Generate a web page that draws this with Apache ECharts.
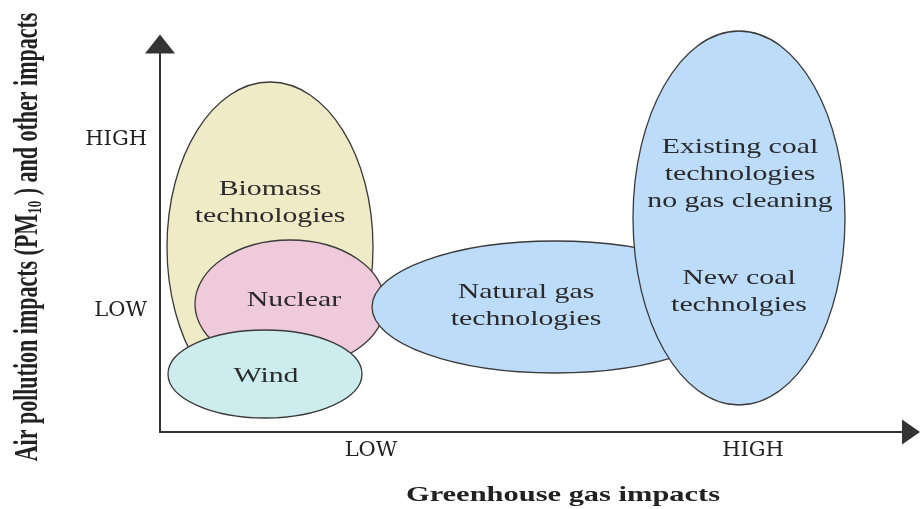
<!DOCTYPE html>
<html>
<head>
<meta charset="utf-8">
<script src="https://cdn.jsdelivr.net/npm/echarts@6/dist/echarts.min.js"></script>
<style>
  html, body { margin: 0; padding: 0; background: #fff; }
  #main { width: 920px; height: 509px; }
</style>
</head>
<body>
<div id="main"></div>
<script>
// technologies, listed back to front
const techNames = ['Biomass', 'Nuclear', 'Wind', 'Natural gas', 'Coal'];
// extent of each technology along greenhouse gas impacts (x)
const ghgMin = [7, 35, 8, 212, 473];
const ghgMax = [213, 225, 202, 578, 685];
// extent along air pollution impacts (y)
const airMin = [20, 64, 14, 59, 27];
const airMax = [350, 192, 102, 191, 401];
const techColors = ['#eeebc6', '#efcadb', '#cdecee', '#bcdcfa', '#bcdcfa'];

// text written inside the shapes, anchored in axis units
const labelText = [
  'Biomass\ntechnologies',
  'Nuclear',
  'Wind',
  'Natural gas\ntechnologies',
  'Existing coal\ntechnologies\nno gas cleaning',
  'New coal\ntechnolgies'
];
const labelGhg = [110, 134, 106, 366, 580, 579];
const labelAir = [229, 132, 56, 126, 258, 140];

// axis tick labels
const xTickValues = [211, 593];
const xTickLabels = ['LOW', 'HIGH'];
const yTickValues = [121, 292];
const yTickLabels = ['LOW', 'HIGH'];

const serif = '"Liberation Serif", "Times New Roman", serif';
const chart = echarts.init(document.getElementById('main'));

const option = {
  backgroundColor: '#fff',
  animation: false,
  grid: { left: 160, right: 9, top: 44, bottom: 77 },
  xAxis: {
    type: 'value',
    min: 0,
    max: 751,
    splitLine: { show: false },
    axisTick: { show: false },
    axisLine: {
      symbol: ['none', 'triangle'],
      symbolSize: [25, 18],
      lineStyle: { color: '#333', width: 2 }
    },
    axisLabel: {
      customValues: xTickValues,
      formatter: v => xTickLabels[xTickValues.indexOf(v)],
      margin: 8,
      fontFamily: 'DejaVu Serif',
      fontSize: 21,
      color: '#222'
    }
  },
  yAxis: {
    type: 'value',
    min: 0,
    max: 388,
    splitLine: { show: false },
    axisTick: { show: false },
    axisLine: {
      symbol: ['none', 'triangle'],
      symbolSize: [30, 19],
      lineStyle: { color: '#333', width: 2 }
    },
    axisLabel: {
      customValues: yTickValues,
      formatter: v => yTickLabels[yTickValues.indexOf(v)],
      margin: 13,
      fontFamily: 'DejaVu Serif',
      fontSize: 21,
      color: '#222'
    }
  },
  graphic: [
    {
      type: 'text',
      x: 563,
      y: 496,
      scaleX: 1.45,
      style: {
        text: 'Greenhouse gas impacts',
        fontFamily: serif,
        fontWeight: 'bold',
        fontSize: 21,
        fill: '#222',
        align: 'center',
        verticalAlign: 'middle'
      }
    },
    {
      type: 'text',
      x: 28,
      y: 237,
      rotation: Math.PI / 2,
      scaleY: 1.5,
      style: {
        text: 'Air pollution impacts (PM{sub|10} ) and other impacts',
        fontFamily: serif,
        fontWeight: 'bold',
        fontSize: 22,
        lineHeight: 24,
        fill: '#222',
        align: 'center',
        verticalAlign: 'middle',
        rich: {
          sub: {
            fontFamily: serif,
            fontWeight: 'bold',
            fontSize: 13,
            lineHeight: 10,
            verticalAlign: 'bottom',
            fill: '#222'
          }
        }
      }
    }
  ],
  series: [
    {
      name: 'technologies',
      type: 'custom',
      silent: true,
      data: techNames.map((n, i) => [ghgMin[i], ghgMax[i], airMin[i], airMax[i]]),
      encode: { x: [0, 1], y: [2, 3] },
      renderItem: (params, api) => {
        const p1 = api.coord([api.value(0), api.value(2)]);
        const p2 = api.coord([api.value(1), api.value(3)]);
        return {
          type: 'ellipse',
          shape: {
            cx: (p1[0] + p2[0]) / 2,
            cy: (p1[1] + p2[1]) / 2,
            rx: Math.abs(p2[0] - p1[0]) / 2,
            ry: Math.abs(p2[1] - p1[1]) / 2
          },
          style: { fill: techColors[params.dataIndex], stroke: '#3a3a3a', lineWidth: 1.3 }
        };
      }
    },
    {
      name: 'labels',
      type: 'custom',
      silent: true,
      z: 5,
      data: labelText.map((t, i) => [labelGhg[i], labelAir[i]]),
      renderItem: (params, api) => {
        const p = api.coord([api.value(0), api.value(1)]);
        return {
          type: 'text',
          x: p[0],
          y: p[1],
          scaleX: 1.42,
          style: {
            text: labelText[params.dataIndex],
            fontFamily: serif,
            fontSize: 21,
            lineHeight: 27,
            fill: '#2a2a2a',
            align: 'center',
            verticalAlign: 'middle'
          }
        };
      }
    }
  ]
};

chart.setOption(option);
</script>
</body>
</html>
